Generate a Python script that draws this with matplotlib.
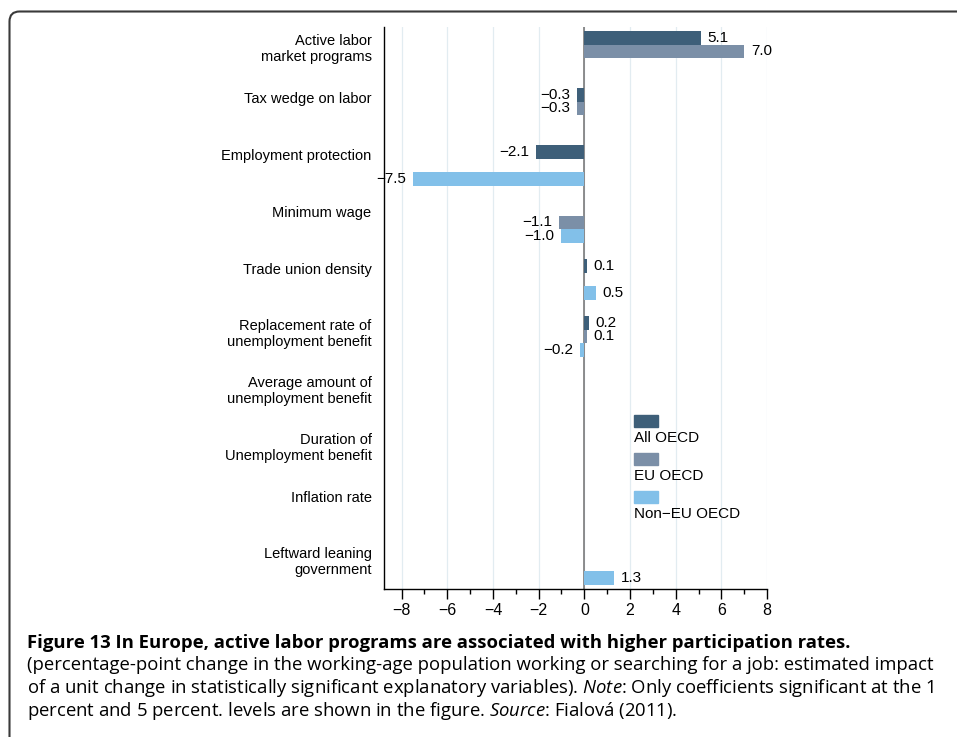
import numpy as np
import matplotlib.pyplot as plt
from matplotlib.patches import FancyBboxPatch, Rectangle
from matplotlib.transforms import IdentityTransform

plt.rcParams.update({
    'font.family': 'Liberation Sans',
    'font.size': 10.5,
    'axes.unicode_minus': True,
    'mathtext.fontset': 'custom',
    'mathtext.it': 'Open Sans:italic',
    'mathtext.rm': 'Open Sans',
})

# data (nan = not significant, no bar)
categories = ['Active labor\nmarket programs', 'Tax wedge on labor',
              'Employment protection', 'Minimum wage', 'Trade union density',
              'Replacement rate of\nunemployment benefit',
              'Average amount of\nunemployment benefit',
              'Duration of\nUnemployment benefit', 'Inflation rate',
              'Leftward leaning\ngovernment']
all_oecd = [5.1, -0.3, -2.1, np.nan, 0.1, 0.2, np.nan, np.nan, np.nan, np.nan]
eu_oecd = [7.0, -0.3, np.nan, -1.1, np.nan, 0.1, np.nan, np.nan, np.nan, np.nan]
non_eu_oecd = [np.nan, np.nan, -7.5, -1.0, 0.5, -0.2, np.nan, np.nan, np.nan, 1.3]
series_names = ['All OECD', 'EU OECD', 'Non\u2212EU OECD']
colors = ['#3e5f79', '#7b8fa7', '#82c0e9']

fig = plt.figure(figsize=(9.57, 7.37), dpi=100)
ax = fig.add_axes([0.4013, 0.2008, 0.4002, 0.7626])

h = 0.235
pos = np.arange(len(categories))
for k, (vals, col) in enumerate(zip([all_oecd, eu_oecd, non_eu_oecd], colors)):
    vals = np.array(vals)
    ok = ~np.isnan(vals)
    y = pos[ok] + (k - 1) * h
    ax.barh(y, vals[ok], height=h, color=col, zorder=3)
    for yy, v in zip(y, vals[ok]):
        txt = f'{v:.1f}'.replace('-', '\u2212')
        ax.annotate(txt, (v, yy), xytext=(5 if v > 0 else -5, 0),
                    textcoords='offset points', va='center',
                    ha='left' if v > 0 else 'right', fontsize=11, zorder=4)

ax.set_xlim(-8.77, 8)
ax.set_ylim(len(categories) - 0.57, -0.43)
ax.set_xticks(np.arange(-8, 9, 2))
ax.set_xticks(np.arange(-7, 8, 2), minor=True)
ax.grid(axis='x', which='major', color='#e2ecf1', lw=0.9, zorder=0)
ax.axvline(0, color='#707070', lw=1.1, zorder=2)
ax.tick_params(axis='x', which='major', length=7, width=1, labelsize=11.5, pad=3)
ax.tick_params(axis='x', which='minor', length=3.5, width=1)

# category labels sit slightly above the group centre
nlines = np.array([c.count('\n') + 1 for c in categories])
ax.set_yticks(pos - np.where(nlines == 1, 0.2, 0.08))
ax.set_yticklabels(categories, fontsize=10.5, linespacing=1.15)
ax.tick_params(axis='y', length=0, pad=9)

for s in ['top', 'right']:
    ax.spines[s].set_visible(False)
ax.spines['left'].set_linewidth(1)
ax.spines['bottom'].set_linewidth(1)

# legend: swatch above its label
for k, (name, col) in enumerate(zip(series_names, colors)):
    y0 = 0.288 - k * 0.0676
    ax.add_patch(Rectangle((0.653, y0), 0.063, 0.021, transform=ax.transAxes,
                           color=col, clip_on=False, zorder=5))
    ax.text(0.653, y0 - 0.019, name, transform=ax.transAxes, va='center',
            ha='left', fontsize=11)

# rounded frame (top and left edges visible)
frame = FancyBboxPatch((9.5, -40), 1100, 737 - 11.5 + 40,
                       boxstyle='round,pad=0,rounding_size=10',
                       transform=IdentityTransform(), fill=False,
                       ec='#3a3a3a', lw=1.5)
fig.patches.append(frame)

cap = dict(fontfamily='Open Sans', fontsize=13.3, va='center', ha='left')
x0 = 27 / 957
fig.text(x0, 1 - 643 / 737,
         'Figure 13 In Europe, active labor programs are associated with higher participation rates.',
         fontweight='bold', **cap)
fig.text(x0, 1 - 665.5 / 737,
         '(percentage-point change in the working-age population working or searching for a job: estimated impact',
         **cap)
fig.text(x0, 1 - 688 / 737,
         r'of a unit change in statistically significant explanatory variables). $\mathit{Note}$: Only coefficients significant at the 1',
         **cap)
fig.text(x0, 1 - 710.5 / 737,
         r'percent and 5 percent. levels are shown in the figure. $\mathit{Source}$: Fialová (2011).',
         **cap)

fig.savefig('out.png', dpi=100)
